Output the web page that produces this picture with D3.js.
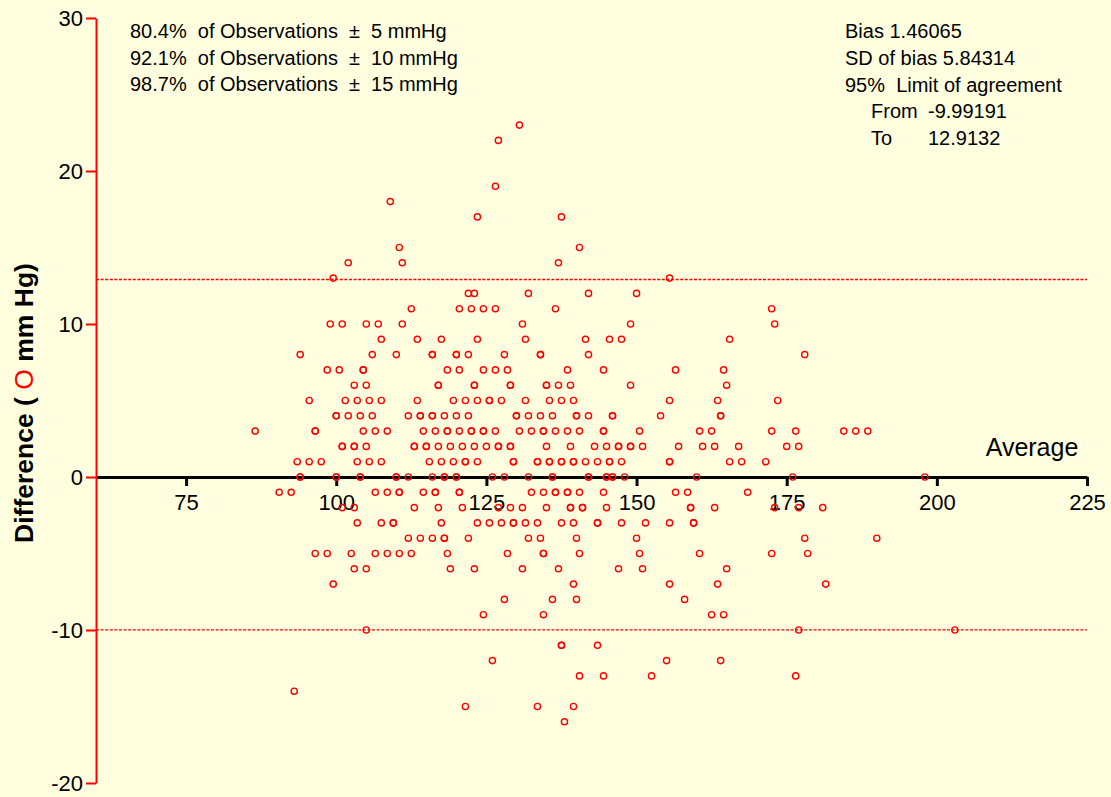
<!DOCTYPE html>
<html>
<head>
<meta charset="utf-8">
<script src="https://cdn.jsdelivr.net/npm/d3@7"></script>
<style>
  html, body { margin: 0; padding: 0; background: #FFFFE0; }
  svg { display: block; font-family: "Liberation Sans", Arial, sans-serif; }
  text { white-space: pre; }
</style>
</head>
<body>
<svg id="chart" width="1111" height="797"></svg>
<script>
// ---------------- data ----------------
const differenceLevels = [23, 22, 19, 18, 17, 15, 14, 13, 12, 11, 10, 9, 8, 7, 6, 5, 4, 3, 2, 1, 0,
  -1, -2, -3, -4, -5, -6, -7, -8, -9, -10, -11, -12, -13, -14, -15, -16];

const averagesAtLevel = [
  [130.5],
  [127],
  [126.5],
  [109],
  [123.5, 137.5],
  [110.5, 140.5],
  [102, 111, 137],
  [99.5, 155.5],
  [122, 123, 132, 142, 150],
  [112.5, 120.5, 122.5, 124.5, 126.5, 136.5, 172.5],
  [99, 101, 105, 107, 111, 131, 149, 173],
  [107.5, 113.5, 117.5, 123.5, 131.5, 141.5, 145.5, 147.5, 165.5],
  [94, 106, 110, 116, 116, 120, 120, 122, 128, 134, 134, 142, 178],
  [98.5, 100.5, 104.5, 104.5, 118.5, 120.5, 124.5, 126.5, 128.5, 138.5, 144.5, 156.5, 164.5],
  [103, 105, 117, 117, 123, 123, 129, 129, 135, 135, 137, 139, 149, 165],
  [95.5, 101.5, 103.5, 105.5, 107.5, 113.5, 119.5, 121.5, 123.5, 125.5, 125.5, 127.5, 131.5, 135.5, 137.5, 139.5, 155.5, 163.5, 173.5],
  [100, 100, 102, 104, 106, 112, 114, 114, 116, 116, 118, 120, 122, 130, 130, 132, 134, 136, 140, 140, 142, 146, 146, 154, 164, 164],
  [86.5, 96.5, 96.5, 104.5, 106.5, 108.5, 114.5, 116.5, 118.5, 118.5, 120.5, 122.5, 122.5, 124.5, 124.5, 126.5, 130.5, 132.5, 134.5, 134.5, 136.5, 138.5, 140.5, 144.5, 144.5, 150.5, 160.5, 162.5, 172.5, 176.5, 184.5, 186.5, 188.5],
  [101, 101, 103, 103, 105, 113, 113, 115, 115, 117, 119, 121, 123, 125, 127, 127, 129, 129, 135, 139, 143, 145, 147, 147, 149, 149, 151, 157, 161, 163, 167, 175, 177],
  [93.5, 95.5, 97.5, 103.5, 105.5, 107.5, 115.5, 117.5, 119.5, 121.5, 121.5, 123.5, 129.5, 129.5, 133.5, 133.5, 135.5, 135.5, 137.5, 137.5, 139.5, 139.5, 141.5, 143.5, 145.5, 145.5, 147.5, 155.5, 155.5, 165.5, 167.5, 171.5],
  [94, 94, 100, 100, 104, 104, 110, 110, 112, 116, 118, 118, 120, 120, 126, 128, 132, 136, 136, 142, 142, 145, 145, 146, 146, 148, 160, 176, 198],
  [90.5, 92.5, 106.5, 108.5, 110.5, 110.5, 114.5, 116.5, 116.5, 120.5, 120.5, 132.5, 134.5, 136.5, 136.5, 138.5, 138.5, 140.5, 144.5, 156.5, 158.5, 168.5],
  [101, 103, 113, 117, 121, 127, 129, 131, 135, 139, 139, 141, 141, 145, 159, 159, 163, 173, 177, 181],
  [103.5, 107.5, 109.5, 109.5, 117.5, 123.5, 125.5, 127.5, 129.5, 129.5, 131.5, 133.5, 137.5, 139.5, 143.5, 143.5, 147.5, 151.5, 155.5, 159.5, 159.5],
  [112, 114, 116, 118, 118, 122, 132, 134, 140, 150, 178, 190],
  [96.5, 98.5, 102.5, 106.5, 108.5, 110.5, 112.5, 118.5, 128.5, 134.5, 134.5, 140.5, 150.5, 160.5, 172.5, 178.5],
  [103, 105, 119, 123, 131, 137, 147, 151, 165],
  [99.5, 139.5, 155.5, 163.5, 181.5],
  [128, 136, 140, 158],
  [124.5, 134.5, 162.5, 164.5],
  [105, 177, 203],
  [137.5, 137.5, 143.5],
  [126, 155, 164],
  [140.5, 144.5, 152.5, 176.5],
  [93],
  [121.5, 133.5, 139.5],
  [138]
];

const limitsOfAgreement = [12.9132, -9.99191];
const xTickValues = [75, 100, 125, 150, 175, 200, 225];
const yTickValues = [-20, -10, 0, 10, 20, 30];
const coverageLines = [
  "80.4%  of Observations  \u00B1  5 mmHg",
  "92.1%  of Observations  \u00B1  10 mmHg",
  "98.7%  of Observations  \u00B1  15 mmHg"
];
const statLines = ["Bias 1.46065", "SD of bias 5.84314", "95%  Limit of agreement"];
const limitNames = ["From", "To"];
const limitValues = ["-9.99191", "12.9132"];

// ---------------- chart ----------------
const svg = d3.select("#chart");
svg.append("rect").attr("width", 1111).attr("height", 797).attr("fill", "#FFFFE0");

const x = d3.scaleLinear().domain([60, 225]).range([96, 1087]);
const y = d3.scaleLinear().domain([-20, 30]).range([783, 18]);

const points = [];
differenceLevels.forEach((d, i) => averagesAtLevel[i].forEach(a => points.push({a, d})));

// limits of agreement
svg.append("g").selectAll("line").data(limitsOfAgreement).join("line")
  .attr("x1", x(60)).attr("x2", x(225))
  .attr("y1", d => y(d)).attr("y2", d => y(d))
  .attr("stroke", "#FF0000").attr("stroke-width", 1.4)
  .attr("stroke-dasharray", "3,1.6");

const fmt = d => String(d);

// x axis at zero
const xAxis = svg.append("g")
  .attr("transform", `translate(0,${y(0)})`)
  .call(d3.axisBottom(x).tickValues(xTickValues).tickFormat(fmt).tickSize(9).tickSizeOuter(0).tickPadding(8));
xAxis.select(".domain").attr("stroke", "#000").attr("stroke-width", 3);
xAxis.selectAll(".tick line").attr("stroke", "#000").attr("stroke-width", 3);
xAxis.selectAll(".tick text").attr("fill", "#000").attr("font-size", 22)
  .attr("font-family", "'Liberation Sans', Arial, sans-serif");

// y axis
const yAxis = svg.append("g")
  .attr("transform", `translate(${x(60)},0)`)
  .call(d3.axisLeft(y).tickValues(yTickValues).tickFormat(fmt).tickSize(10).tickSizeOuter(0).tickPadding(3));
yAxis.select(".domain").attr("stroke", "#FF0000").attr("stroke-width", 2);
yAxis.selectAll(".tick line").attr("stroke", "#FF0000").attr("stroke-width", 2);
yAxis.selectAll(".tick text").attr("fill", "#000").attr("font-size", 22)
  .attr("font-family", "'Liberation Sans', Arial, sans-serif");

// points
svg.append("g").selectAll("circle").data(points).join("circle")
  .attr("cx", d => x(d.a)).attr("cy", d => y(d.d)).attr("r", 3.1)
  .attr("fill", "none").attr("stroke", "#FF0000").attr("stroke-width", 1.4);

// axis titles
svg.append("text").attr("x", 1032).attr("y", 456).attr("text-anchor", "middle")
  .attr("font-size", 25).attr("fill", "#000").text("Average");

const yt = svg.append("text")
  .attr("transform", "translate(33,403) rotate(-90)")
  .attr("text-anchor", "middle").attr("font-size", 26.5).attr("font-weight", "bold").attr("fill", "#000");
yt.append("tspan").text("Difference ( ");
yt.append("tspan").attr("fill", "#FF0000").attr("font-weight", "normal").text("O");
yt.append("tspan").text(" mm Hg)");

// annotations
svg.append("g").selectAll("text").data(coverageLines).join("text")
  .attr("x", 130).attr("y", (d, i) => 38 + i * 26.6)
  .attr("font-size", 20).attr("fill", "#000").text(d => d);

svg.append("g").selectAll("text").data(statLines).join("text")
  .attr("x", 845).attr("y", (d, i) => 38 + i * 26.8)
  .attr("font-size", 20).attr("fill", "#000").text(d => d);

svg.append("g").selectAll("text").data(limitNames).join("text")
  .attr("x", 871).attr("y", (d, i) => 118.4 + i * 26.8)
  .attr("font-size", 20).attr("fill", "#000").text(d => d);
svg.append("g").selectAll("text").data(limitValues).join("text")
  .attr("x", 928).attr("y", (d, i) => 118.4 + i * 26.8)
  .attr("font-size", 20).attr("fill", "#000").text(d => d);
</script>
</body>
</html>
